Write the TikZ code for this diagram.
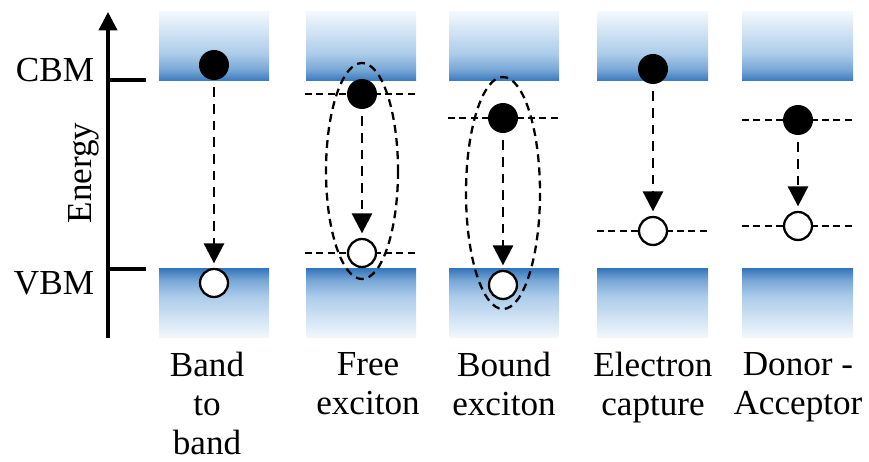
\documentclass[tikz,border=0pt]{standalone}
\usepackage{fontspec}
\setmainfont{Liberation Serif}
\usetikzlibrary{arrows.meta}

\definecolor{bandlight}{RGB}{243,248,253}
\definecolor{bandmid}{RGB}{172,204,234}
\definecolor{banddark}{RGB}{55,120,188}
\pgfdeclareverticalshading{cbshade}{100bp}{color(0bp)=(banddark); color(25bp)=(banddark); color(33bp)=(bandmid!55!banddark); color(45bp)=(bandmid); color(75bp)=(bandlight); color(100bp)=(bandlight)}

\tikzset{
	cband/.style={shading=cbshade, draw=none},
	vband/.style={shading=cbshade, shading angle=180, draw=none},
	elec/.style={circle, fill=black, inner sep=0pt, minimum size=0.6cm},
	hole/.style={circle, draw=black, fill=white, line width=1.3pt, inner sep=0pt, minimum size=0.56cm},
	trans/.style={line width=1.6pt, dash pattern=on 5.5pt off 4pt, shorten <=0.14cm, shorten >=0.09cm, -{Triangle[width=0.4cm, length=0.4cm]}},
	level/.style={line width=1.3pt, dash pattern=on 4pt off 2.5pt},
	exc/.style={line width=1.3pt, dash pattern=on 4.5pt off 3pt},
	lbl/.style={font=\fontsize{20pt}{22.2pt}\selectfont, align=center, anchor=north, inner sep=0pt}
}

\begin{document}
\begin{tikzpicture}[x=0.02cm, y=-0.02cm]
		\useasboundingbox (0,0) rectangle (869,462);
		% bands
		\fill[cband] (159,12) rectangle (269,81);
		\fill[cband] (306,12) rectangle (416,81);
		\fill[cband] (449,12) rectangle (559,81);
		\fill[cband] (597,12) rectangle (708,81);
		\fill[cband] (742,12) rectangle (853,81);
		\fill[vband] (159,269) rectangle (269,338);
		\fill[vband] (306,269) rectangle (416,338);
		\fill[vband] (449,269) rectangle (559,338);
		\fill[vband] (597,269) rectangle (708,338);
		\fill[vband] (742,269) rectangle (853,338);

		% energy axis
		\draw [line width=1.8pt, -{Triangle[width=0.37cm, length=0.37cm]}] (108,338) -- (108,12);
		\draw [line width=1.8pt] (108,80) -- (146,80);
		\draw [line width=1.8pt] (108,269) -- (146,269);
		\node[font=\fontsize{20pt}{24pt}\selectfont] (cbm) at (55,70) {CBM};
		\node[font=\fontsize{20pt}{24pt}\selectfont] (vbm) at (54,283) {VBM};
		\node[font=\fontsize{20pt}{24pt}\selectfont, rotate=90] (energy) at (84,173) {Energy};

		% levels
		\draw [level] (305,94) -- (417,94);
		\draw [level] (305,253) -- (417,253);
		\draw [level] (448,118) -- (561,118);
		\draw [level] (597,231) -- (708,231);
		\draw [level] (742,120) -- (853,120);
		\draw [level] (742,226) -- (853,226);

		% excitons
		\draw [exc] (362,171) ellipse [x radius=36, y radius=108];
		\draw [exc] (503,193) ellipse [x radius=37, y radius=116];

		% electrons and holes
		\node[elec] (e1) at (214,65) {};
		\node[hole] (h1) at (214,283) {};
		\node[elec] (e2) at (362,94) {};
		\node[hole] (h2) at (362,253) {};
		\node[elec] (e3) at (503,118) {};
		\node[hole] (h3) at (503,285) {};
		\node[elec] (e4) at (653,69) {};
		\node[hole] (h4) at (653,231) {};
		\node[elec] (e5) at (798,120) {};
		\node[hole] (h5) at (798,226) {};

		\draw [trans] (e1) -- (h1);
		\draw [trans] (e2) -- (h2);
		\draw [trans] (e3) -- (h3);
		\draw [trans] (e4) -- (h4);
		\draw [trans] (e5) -- (h5);

		% labels
		\node[lbl] (l1) at (207,352) {Band\\to\\band};
		\node[lbl] (l2) at (368,352) {Free\\exciton};
		\node[lbl] (l3) at (504,352) {Bound\\exciton};
		\node[lbl] (l4) at (653,352) {Electron\\capture};
		\node[lbl] (l5) at (798,352) {Donor -\\Acceptor};
	\end{tikzpicture}
\end{document}
